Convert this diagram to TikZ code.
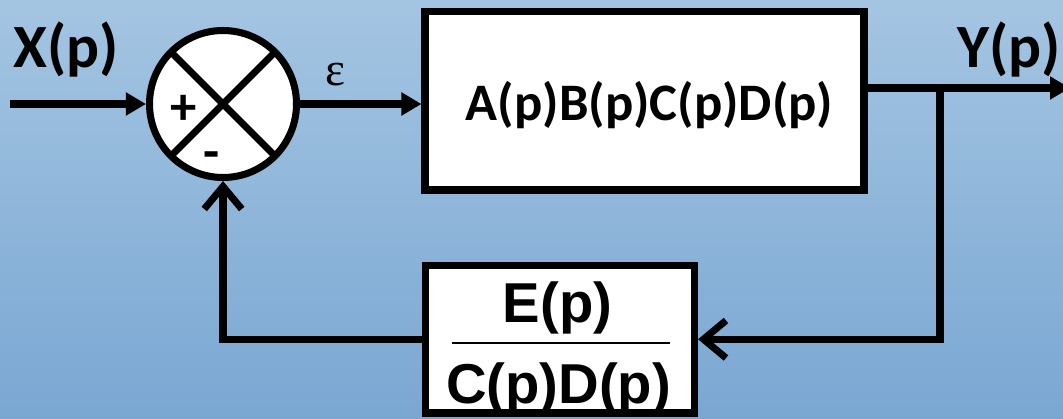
\documentclass[tikz,border=0pt]{standalone}
\usepackage{fontspec}
\setmainfont{Carlito}
\newfontfamily\arialfont{Liberation Sans}
\newfontfamily\seriffont{Liberation Serif}
\usetikzlibrary{arrows.meta}
\definecolor{bgtop}{RGB}{164,197,226}
\definecolor{bgbottom}{RGB}{122,167,210}

\begin{document}
\begin{tikzpicture}[
		wire/.style={line width=4pt},
		block/.style={draw, rectangle, line width=4pt, fill=white, inner sep=0pt},
		lbl/.style={font=\fontsize{30}{36}\selectfont\bfseries},
		siglbl/.style={font=\fontsize{35}{42}\selectfont\bfseries},
		fraclbl/.style={font=\arialfont\fontsize{32}{38}\selectfont\bfseries},
		fwd/.style={-{Triangle[length=0.4cm,width=0.44cm]}},
		back/.style={-{Straight Barb[length=0.45cm,width=0.75cm]}}
	]
				% Background
				\useasboundingbox (0,0) rectangle (21.26,8.36);
				\clip (0,0) rectangle (21.26,8.36);
				\shade[top color=bgtop, bottom color=bgbottom] (0,0) rectangle (21.26,8.36);

				% Summing junction
				\node[circle, draw, line width=4pt, fill=white, minimum size=2.94cm, inner sep=0pt,
					path picture={\draw[line width=4pt] (path picture bounding box.north west) -- (path picture bounding box.south east)
						(path picture bounding box.south west) -- (path picture bounding box.north east);}] (sum) at (4.46,6.28) {};
				\node[lbl, anchor=base] (plus) at (3.68,5.87) {+};
				\node[lbl, anchor=base] (minus) at (4.24,4.98) {-};

				% Forward block
				\node[block, minimum width=8.78cm, minimum height=3.57cm] (plant) at (12.89,6.345) {};
				\node[lbl] (plantlbl) at ([xshift=0.1cm, yshift=-0.08cm]plant.center) {A(p)B(p)C(p)D(p)};

				% Feedback block
				\node[block, minimum width=5.38cm, minimum height=2.95cm] (fb) at (11.2,1.575) {};
				\node[fraclbl, anchor=base] (num) at (11.15,1.92) {E(p)};
				\node[fraclbl, anchor=base] (den) at (11.17,0.30) {C(p)D(p)};
				\draw[line width=1.2pt] (9.04,1.50) -- (13.40,1.50);

				% Signals
				\coordinate (in) at (0.2,6.28);
				\coordinate (branch) at (18.80,6.60);
				\coordinate (out) at (21.40,6.60);
				\draw[wire, fwd] (in) -- (sum.west);
				\draw[wire, fwd] (sum.east) -- (sum.east -| plant.west);
				\draw[wire, fwd] (plant.east |- branch) -- (out);
				\draw[wire, back] (branch) |- (fb.east);
				\draw[wire, back] (fb.west) -| (sum.south);

				% Signal names
				\node[siglbl, anchor=base] (xlbl) at (1.32,7.02) {X(p)};
				\node[siglbl, anchor=base east, inner sep=1pt] (ylbl) at (21.26,7.02) {Y(p)};
				\node[font=\seriffont\fontsize{27}{32}\selectfont, anchor=base] (eps) at (6.70,6.66) {ε};
			\end{tikzpicture}
\end{document}
